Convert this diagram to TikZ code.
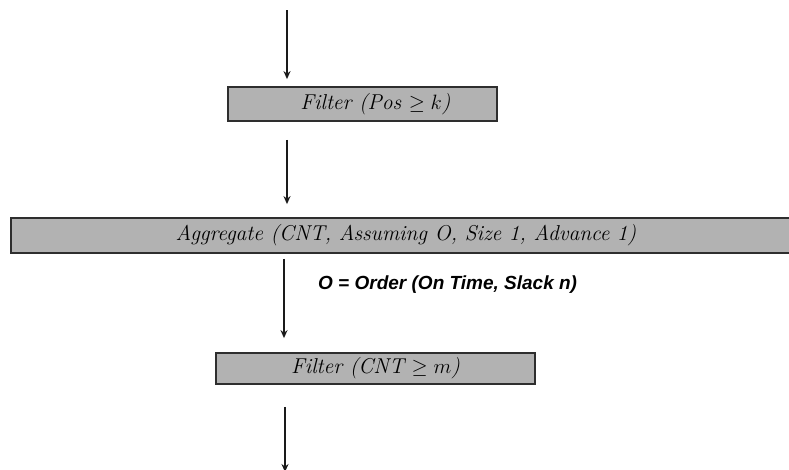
\documentclass[tikz,border=0pt]{standalone}
\usepackage{fontspec}
\usepackage{amssymb}
\newfontfamily\labelfont{Liberation Sans}
\usetikzlibrary{arrows.meta}
\definecolor{boxfill}{HTML}{B2B2B2}
\definecolor{boxline}{HTML}{2E2E2E}
\definecolor{arrcol}{HTML}{1A1A1A}
\tikzset{
  opbox/.style={draw=boxline, fill=boxfill, line width=1.8pt, inner sep=0pt,
    font=\fontsize{21.5}{24}\selectfont\itshape, text=black},
  arr/.style={draw=arrcol, line width=2pt, -{Stealth[length=8pt,width=7pt]}},
  lbl/.style={font=\labelfont\fontsize{19}{22}\selectfont\bfseries\itshape, anchor=west, inner sep=0pt}
}
\begin{document}
\begin{tikzpicture}[x=1pt,y=-1pt]
\useasboundingbox (0,0) rectangle (789,469);
\clip (0,0) rectangle (789,469);
\node[opbox, minimum width=269pt, minimum height=34pt] (f1) at (362.5,104) {\hspace*{26pt}Filter (Pos $\geq k$)};
\node[opbox, minimum width=790pt, minimum height=35pt] (agg) at (406,235.5) {Aggregate (CNT, Assuming O, Size 1, Advance 1)};
\node[opbox, minimum width=319pt, minimum height=31pt] (f2) at (375.5,368.5) {Filter (CNT $\geq m$)};
\coordinate (top) at (287,10);
\coordinate (x2) at (287,0);
\coordinate (x3) at (284,0);
\coordinate (bot) at (285,472);
\coordinate (x4) at (285,0);
\draw[arr, shorten >=7pt] (top) -- (top |- f1.north);
\draw[arr, shorten <=18pt, shorten >=13pt] (f1.south -| x2) -- (agg.north -| x2);
\draw[arr, shorten <=5pt, shorten >=14pt] (agg.south -| x3) -- (f2.north -| x3);
\draw[arr, shorten <=22pt] (f2.south -| x4) -- (bot);
\node[lbl] (ord) at (318,285) {O = Order (On Time, Slack n)};
\end{tikzpicture}
\end{document}
